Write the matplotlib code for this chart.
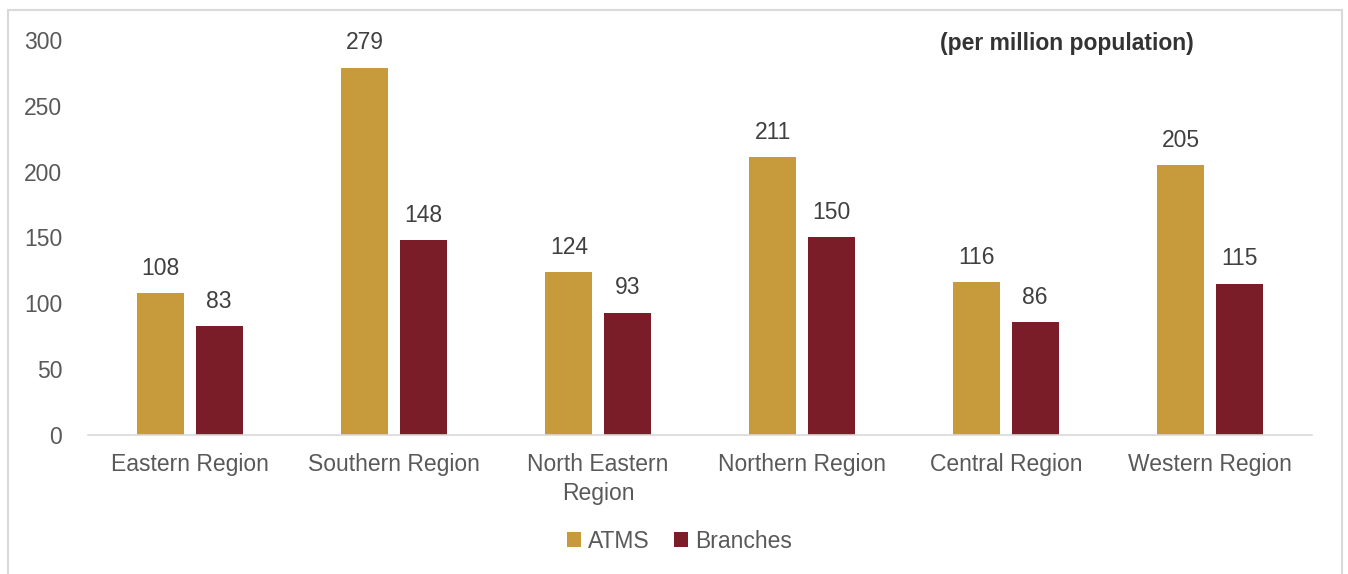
import numpy as np
import matplotlib.pyplot as plt
from matplotlib.patches import Rectangle

regions = ["Eastern Region", "Southern Region", "North Eastern\nRegion",
           "Northern Region", "Central Region", "Western Region"]
atms = [108, 279, 124, 211, 116, 205]
branches = [83, 148, 93, 150, 86, 115]

plt.rcParams['font.family'] = ['Liberation Sans', 'DejaVu Sans']

fig = plt.figure(figsize=(13.48, 5.74), dpi=100)
ax = fig.add_axes([0.0653, 0.2422, 0.9080, 0.6881])

gold = '#C79A3B'
maroon = '#7B1D29'
fs = 16.5
x = np.arange(len(regions))
w = 0.23
off = 0.143

b1 = ax.bar(x - off, atms, w, color=gold, label='ATMS')
b2 = ax.bar(x + off, branches, w, color=maroon, label='Branches')

# value labels above bars
for bars in (b1, b2):
    for r in bars:
        ax.text(r.get_x() + r.get_width() / 2, r.get_height() + 10,
                f"{int(r.get_height())}", ha='center', va='bottom',
                fontsize=fs, color='#404040')

ax.set_xlim(-0.5, len(regions) - 0.5)
ax.set_ylim(0, 300)
ax.set_yticks(np.arange(0, 301, 50))
ax.set_xticks(x)
ax.set_xticklabels(regions, fontsize=fs, color='#595959', linespacing=1.35)
ax.tick_params(axis='y', labelsize=fs, labelcolor='#595959', length=0, pad=18.5)
ax.tick_params(axis='x', length=0, pad=13)
for s in ['top', 'right', 'left']:
    ax.spines[s].set_visible(False)
ax.spines['bottom'].set_color('#D9D9D9')
ax.spines['bottom'].set_linewidth(1.2)

ax.text(0.696, 0.99, "(per million population)", transform=ax.transAxes,
        fontsize=fs, fontweight='bold', color='#333333', ha='left', va='center')

fig.legend(handles=[b1, b2], loc='center', bbox_to_anchor=(0.504, 0.057),
           ncol=2, frameon=False, fontsize=fs, handlelength=0.6,
           handleheight=0.6, handletextpad=0.3, columnspacing=1.1,
           labelcolor='#595959')

# light outer frame
fig.patches.append(Rectangle((8 / 1348, -0.05), (1342 - 8) / 1348, 1.05 - 10 / 574,
                             transform=fig.transFigure, fill=False,
                             edgecolor='#D9D9D9', linewidth=1.5))

fig.savefig('out.png', dpi=100)
